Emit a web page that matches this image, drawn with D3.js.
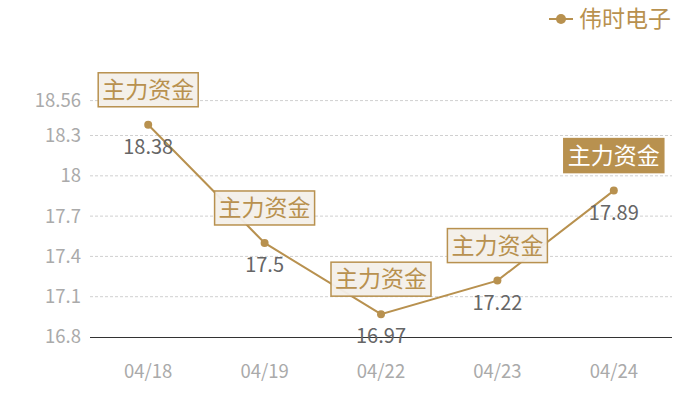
<!DOCTYPE html>
<html><head><meta charset="utf-8">
<script src="https://cdn.jsdelivr.net/npm/d3@7/dist/d3.min.js"></script>
<style>body{margin:0;background:#fff;}svg{display:block;font-family:"Noto Sans CJK SC","Noto Sans",sans-serif;}</style>
</head><body><svg id="c" width="700" height="400"></svg>
<script>
const categories = ["04/18","04/19","04/22","04/23","04/24"];
const values = [18.38, 17.5, 16.97, 17.22, 17.89];
const yTicks = [16.8, 17.1, 17.4, 17.7, 18, 18.3, 18.56];
const seriesName = "伟时电子";
const annotations = ["主力资金","主力资金","主力资金","主力资金","主力资金"];
const highlighted = [false,false,false,false,true];

const color = "#b8914f";
const svg = d3.select("#c");
const x = d3.scaleBand().domain(categories).range([90, 672]);
const y = d3.scaleLinear().domain([16.8, 18.56]).range([337, 100.6]);

// grid
svg.append("g").selectAll("line").data(yTicks.slice(1)).join("line")
  .attr("x1", 90).attr("x2", 672)
  .attr("y1", d => y(d)).attr("y2", d => y(d))
  .attr("stroke", "#d0d0d0").attr("stroke-dasharray", "3,2");

// y labels
svg.append("g").selectAll("text").data(yTicks).join("text")
  .attr("x", 81).attr("y", d => y(d)).attr("dy", "0.35em")
  .attr("text-anchor", "end").attr("fill", "#aaaaaa").attr("font-size", 18.5)
  .text(d => d);

// x axis
svg.append("line").attr("x1", 90).attr("x2", 672).attr("y1", 337.5).attr("y2", 337.5)
  .attr("stroke", "#333").attr("stroke-width", 1);
svg.append("g").selectAll("text").data(categories).join("text")
  .attr("x", d => x(d) + x.bandwidth()/2).attr("y", 372).attr("dy", "0.35em")
  .attr("text-anchor", "middle").attr("fill", "#aaaaaa").attr("font-size", 18.5)
  .text(d => d);

// line
const pts = categories.map((c,i) => ({c, v: values[i], i}));
const cx = d => x(d.c) + x.bandwidth()/2;
svg.append("path").datum(pts)
  .attr("d", d3.line().x(cx).y(d => y(d.v)))
  .attr("fill", "none").attr("stroke", color).attr("stroke-width", 2);
svg.append("g").selectAll("circle").data(pts).join("circle")
  .attr("cx", cx).attr("cy", d => y(d.v)).attr("r", 4).attr("fill", color);

// value labels
svg.append("g").selectAll("text").data(pts).join("text")
  .attr("x", cx).attr("y", d => y(d.v) + 22).attr("dy", "0.35em")
  .attr("text-anchor", "middle").attr("fill", "#666").attr("font-size", 20)
  .text(d => d.v);

// annotations
const ann = svg.append("g").selectAll("g").data(pts).join("g")
  .attr("transform", d => `translate(${cx(d)},${y(d.v) - 35})`);
ann.append("rect").attr("x", -50).attr("y", -17).attr("width", 100).attr("height", 34)
  .attr("fill", d => highlighted[d.i] ? color : "rgba(243,239,233,0.95)")
  .attr("stroke", color).attr("stroke-width", 1.5);
ann.append("text").attr("text-anchor", "middle").attr("dy", "0.36em")
  .attr("font-size", 23).attr("fill", d => highlighted[d.i] ? "#fff" : color)
  .text(d => annotations[d.i]);

// legend
const lg = svg.append("g").attr("transform", "translate(561,19)");
lg.append("line").attr("x1", -12).attr("x2", 12).attr("stroke", color).attr("stroke-width", 2);
lg.append("circle").attr("r", 5).attr("fill", color);
lg.append("text").attr("x", 18).attr("dy", "0.36em").attr("font-size", 23).attr("fill", color).text(seriesName);
</script></body></html>
